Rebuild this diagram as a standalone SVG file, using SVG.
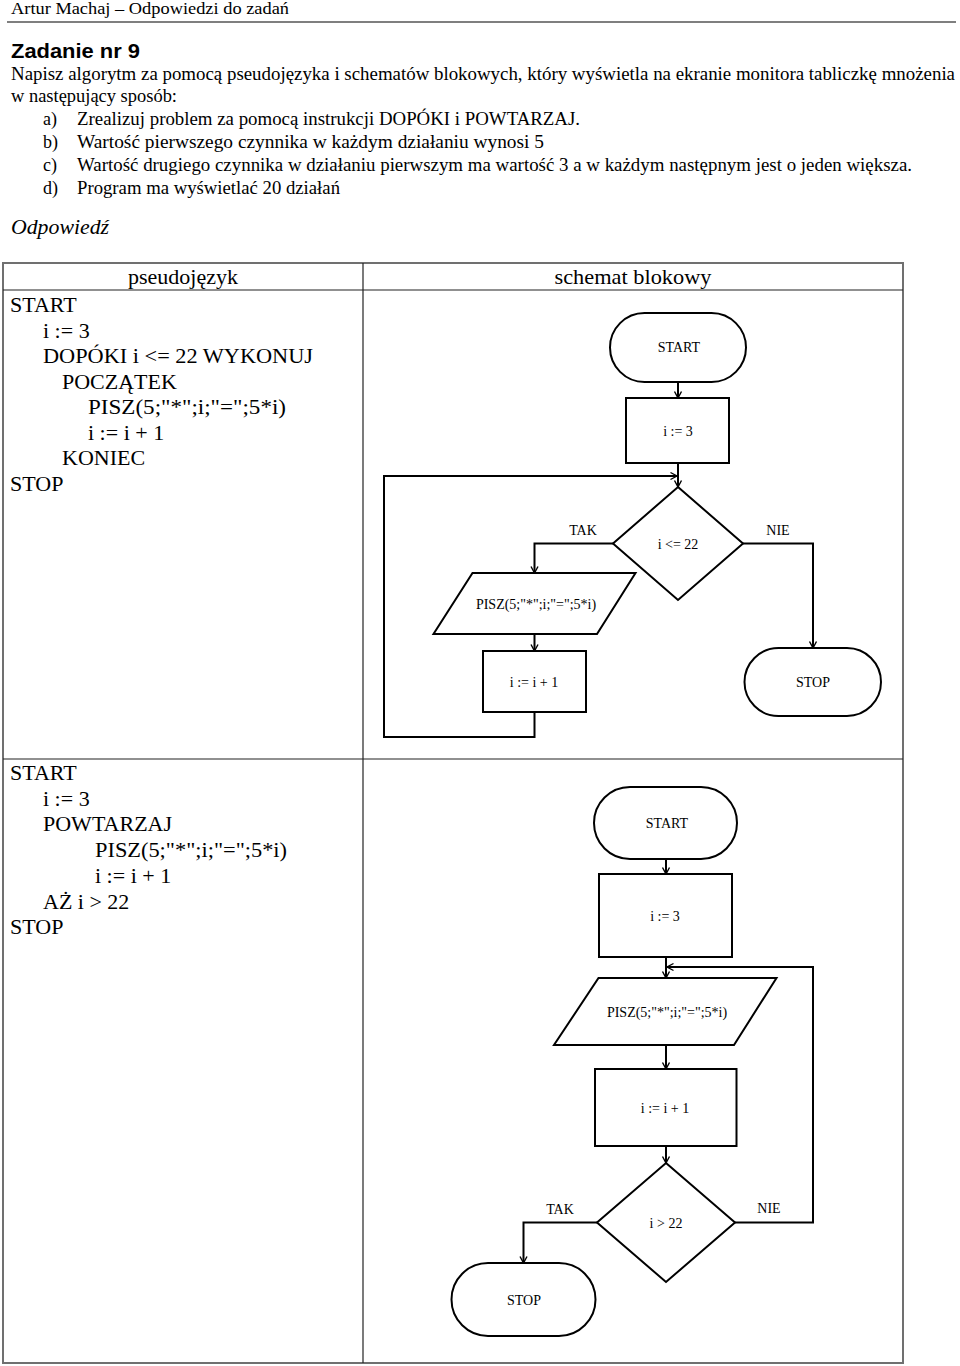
<svg xmlns="http://www.w3.org/2000/svg" width="960" height="1366" viewBox="0 0 960 1366">
<style>
.serif{font-family:"Liberation Serif","Times New Roman",serif;fill:#000}
.hdr{font-size:17px}
.body{font-size:18px}
.code{font-size:22px}
.col{font-size:21px}
.lbl{font-size:14px;text-anchor:middle}
.shape{fill:#fff;stroke:#000;stroke-width:2}
.conn{fill:none;stroke:#000;stroke-width:2}
.outer{fill:none;stroke:#707070;stroke-width:2}
.inner{stroke:#222;stroke-width:1.2}
</style>
<defs>
<marker id="arr" viewBox="-8 -5 10 10" refX="0" refY="0" markerWidth="10" markerHeight="10" orient="auto" markerUnits="userSpaceOnUse">
<path d="M-6.5,-3.5 L0,0 L-6.5,3.5" fill="none" stroke="#000" stroke-width="1.4"/>
</marker>
</defs>
<rect width="960" height="1366" fill="#fff"/>

<g id="page-header">
<text class="serif hdr" x="11" y="14" textLength="278" lengthAdjust="spacingAndGlyphs">Artur Machaj – Odpowiedzi do zadań</text>
<line x1="7" y1="22" x2="956" y2="22" stroke="#555" stroke-width="1.5"/>
<text x="11" y="58" font-family="'Liberation Sans',Arial,sans-serif" font-weight="bold" font-size="21" textLength="129" lengthAdjust="spacingAndGlyphs">Zadanie nr 9</text>
</g>

<g id="task-text" class="serif body">
<text x="11" y="80" textLength="944" lengthAdjust="spacingAndGlyphs">Napisz algorytm za pomocą pseudojęzyka i schematów blokowych, który wyświetla na ekranie monitora tabliczkę mnożenia</text>
<text x="11" y="102" textLength="166" lengthAdjust="spacingAndGlyphs">w następujący sposób:</text>
<text x="43" y="125">a)</text>
<text x="77" y="125" textLength="503" lengthAdjust="spacingAndGlyphs">Zrealizuj problem za pomocą instrukcji DOPÓKI i POWTARZAJ.</text>
<text x="43" y="148">b)</text>
<text x="77" y="148" textLength="467" lengthAdjust="spacingAndGlyphs">Wartość pierwszego czynnika w każdym działaniu wynosi 5</text>
<text x="43" y="171">c)</text>
<text x="77" y="171" textLength="835" lengthAdjust="spacingAndGlyphs">Wartość drugiego czynnika w działaniu pierwszym ma wartość 3 a w każdym następnym jest o jeden większa.</text>
<text x="43" y="194">d)</text>
<text x="77" y="194" textLength="263" lengthAdjust="spacingAndGlyphs">Program ma wyświetlać 20 działań</text>
<text x="11" y="234" font-size="21" font-style="italic" textLength="98" lengthAdjust="spacingAndGlyphs">Odpowiedź</text>
</g>

<g id="table">
<rect class="outer" x="3" y="263" width="900" height="1100"/>
<line class="inner" x1="3" y1="290" x2="903" y2="290"/>
<line class="inner" x1="363" y1="263" x2="363" y2="1363"/>
<line class="inner" x1="3" y1="759" x2="903" y2="759"/>
<text class="serif col" x="183" y="284" text-anchor="middle" textLength="110" lengthAdjust="spacingAndGlyphs">pseudojęzyk</text>
<text class="serif col" x="633" y="284" text-anchor="middle" textLength="157" lengthAdjust="spacingAndGlyphs">schemat blokowy</text>
</g>

<g id="pseudocode-while" class="serif code">
<text x="10" y="312">START</text>
<text x="43" y="338">i := 3</text>
<text x="43" y="363" textLength="270" lengthAdjust="spacingAndGlyphs">DOPÓKI i &lt;= 22 WYKONUJ</text>
<text x="62" y="389">POCZĄTEK</text>
<text x="88" y="414" textLength="198" lengthAdjust="spacingAndGlyphs">PISZ(5;"*";i;"=";5*i)</text>
<text x="88" y="440">i := i + 1</text>
<text x="62" y="465">KONIEC</text>
<text x="10" y="491">STOP</text>
</g>

<g id="pseudocode-repeat" class="serif code">
<text x="10" y="780">START</text>
<text x="43" y="806">i := 3</text>
<text x="43" y="831">POWTARZAJ</text>
<text x="95" y="857" textLength="192" lengthAdjust="spacingAndGlyphs">PISZ(5;"*";i;"=";5*i)</text>
<text x="95" y="883">i := i + 1</text>
<text x="43" y="909">AŻ i &gt; 22</text>
<text x="10" y="934">STOP</text>
</g>

<g id="connectors">
<path class="conn" d="M678,382 L678,398" marker-end="url(#arr)"/>
<path class="conn" d="M678,463 L678,487" marker-end="url(#arr)"/>
<path class="conn" d="M613,543.5 L534.5,543.5 L534.5,573" marker-end="url(#arr)"/>
<path class="conn" d="M534.5,634 L534.5,651" marker-end="url(#arr)"/>
<path class="conn" d="M534.5,712 L534.5,737 L384,737 L384,476 L677,476" marker-end="url(#arr)"/>
<path class="conn" d="M743,543.5 L813,543.5 L813,648" marker-end="url(#arr)"/>
<text class="serif lbl" x="583" y="535">TAK</text>
<text class="serif lbl" x="778" y="535">NIE</text>

<path class="conn" d="M666,859 L666,874" marker-end="url(#arr)"/>
<path class="conn" d="M666,957 L666,978" marker-end="url(#arr)"/>
<path class="conn" d="M666,1045 L666,1069" marker-end="url(#arr)"/>
<path class="conn" d="M666,1146 L666,1163" marker-end="url(#arr)"/>
<path class="conn" d="M735,1222.5 L813,1222.5 L813,967 L667,967" marker-end="url(#arr)"/>
<path class="conn" d="M597,1222.5 L523.5,1222.5 L523.5,1263" marker-end="url(#arr)"/>
<text class="serif lbl" x="560" y="1214">TAK</text>
<text class="serif lbl" x="769" y="1213">NIE</text>
</g>

<g id="n1-start">
<rect class="shape" x="610" y="313" width="136" height="69" rx="34.5"/>
<text class="serif lbl" x="679" y="352">START</text>
</g>
<g id="n1-init">
<rect class="shape" x="626" y="398" width="103" height="65"/>
<text class="serif lbl" x="678" y="436">i := 3</text>
</g>
<g id="n1-cond">
<polygon class="shape" points="678,487 743,543.5 678,600 613,543.5"/>
<text class="serif lbl" x="678" y="548.5">i &lt;= 22</text>
</g>
<g id="n1-print">
<polygon class="shape" points="472.5,573 635.5,573 597,634 433.5,634"/>
<text class="serif lbl" x="536" y="609">PISZ(5;"*";i;"=";5*i)</text>
</g>
<g id="n1-inc">
<rect class="shape" x="483" y="651" width="103" height="61"/>
<text class="serif lbl" x="534" y="686.5">i := i + 1</text>
</g>
<g id="n1-stop">
<rect class="shape" x="744.5" y="648" width="136.5" height="68" rx="34"/>
<text class="serif lbl" x="813" y="686.5">STOP</text>
</g>

<g id="n2-start">
<rect class="shape" x="594" y="787" width="143" height="72" rx="36"/>
<text class="serif lbl" x="667" y="828">START</text>
</g>
<g id="n2-init">
<rect class="shape" x="599" y="874" width="133" height="83"/>
<text class="serif lbl" x="665" y="921">i := 3</text>
</g>
<g id="n2-print">
<polygon class="shape" points="598.5,978 776.5,978 734,1045 554,1045"/>
<text class="serif lbl" x="667" y="1017">PISZ(5;"*";i;"=";5*i)</text>
</g>
<g id="n2-inc">
<rect class="shape" x="595" y="1069" width="141.5" height="77"/>
<text class="serif lbl" x="665" y="1113">i := i + 1</text>
</g>
<g id="n2-cond">
<polygon class="shape" points="666,1163 735,1222.5 666,1282 597,1222.5"/>
<text class="serif lbl" x="666" y="1228">i &gt; 22</text>
</g>
<g id="n2-stop">
<rect class="shape" x="451.5" y="1263" width="144" height="73" rx="36.5"/>
<text class="serif lbl" x="524" y="1305">STOP</text>
</g>
</svg>
